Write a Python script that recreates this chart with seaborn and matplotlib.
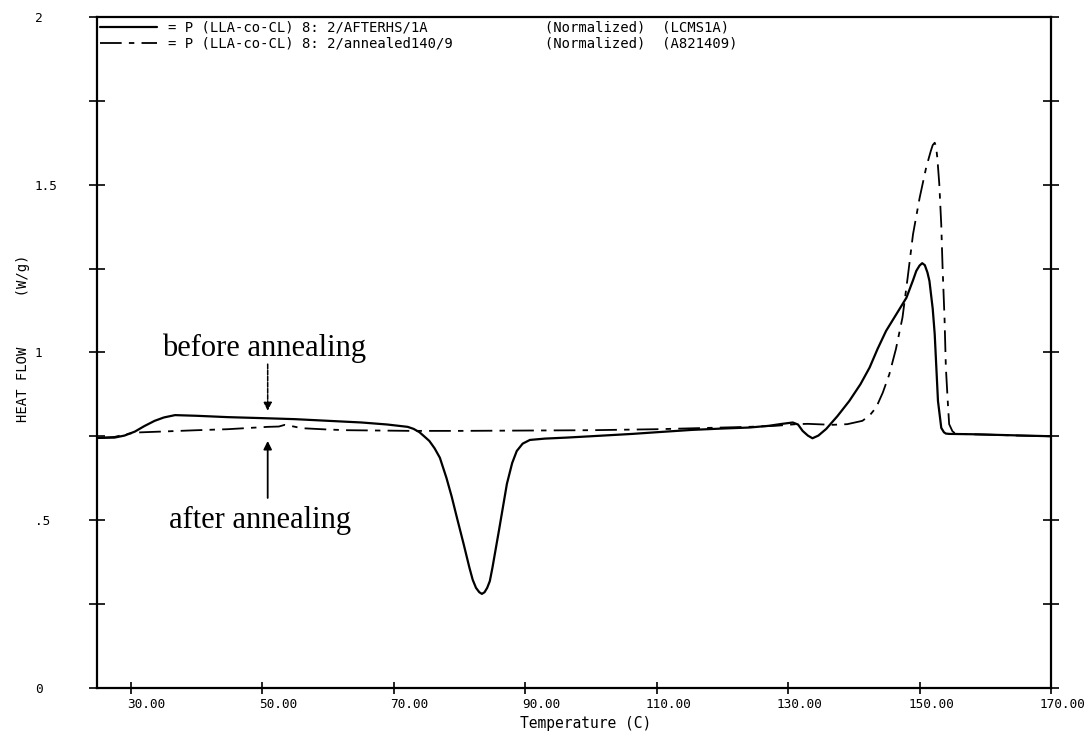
import matplotlib
matplotlib.use("Agg")
import matplotlib.pyplot as plt
import matplotlib.transforms as mtransforms
from matplotlib.ticker import FixedLocator, FixedFormatter
import pandas as pd
import seaborn as sns

# DSC heat-flow traces, P(LLA-co-CL) 8:2
temp_before = [25.0, 27.5, 29.0, 30.6, 32.0, 33.6, 35.0, 36.7, 40.0, 44.7, 50.0, 54.9,
               60.0, 65.1, 69.0, 72.1, 73.0, 73.9, 74.6, 75.4, 76.2, 77.0, 78.0, 78.8,
               79.6, 80.6, 81.5, 82.0, 82.5, 83.0, 83.4, 83.8, 84.2, 84.6, 85.0, 86.0,
               87.2, 88.0, 88.7, 89.6, 90.7, 93.0, 96.3, 100.0, 106.3, 110.0, 115.4,
               120.0, 124.1, 127.0, 129.1, 130.7, 131.5, 132.2, 133.0, 133.7, 134.6,
               135.8, 137.5, 139.3, 141.0, 142.4, 143.6, 144.9, 146.5, 148.0, 149.0,
               149.5, 150.0, 150.4, 150.8, 151.2, 151.5, 152.0, 152.3, 152.8, 153.3,
               153.7, 154.0, 154.5, 158.0, 162.0, 166.0, 170.0]
flow_before = [0.745, 0.746, 0.752, 0.764, 0.780, 0.796, 0.806, 0.813, 0.811, 0.807, 0.804, 0.801,
               0.796, 0.791, 0.785, 0.778, 0.772, 0.762, 0.750, 0.736, 0.714, 0.686, 0.626, 0.570,
               0.507, 0.430, 0.358, 0.322, 0.298, 0.285, 0.280, 0.285, 0.298, 0.318, 0.358, 0.470,
               0.608, 0.670, 0.706, 0.728, 0.739, 0.743, 0.746, 0.750, 0.757, 0.762, 0.769,
               0.773, 0.776, 0.781, 0.787, 0.791, 0.785, 0.766, 0.752, 0.744, 0.752,
               0.772, 0.810, 0.855, 0.905, 0.955, 1.010, 1.064, 1.115, 1.163, 1.215,
               1.243, 1.259, 1.266, 1.260, 1.238, 1.213, 1.130, 1.055, 0.855, 0.775,
               0.762, 0.758, 0.757, 0.756, 0.754, 0.752, 0.750]

temp_after = [25.0, 27.5, 29.0, 30.6, 34.7, 40.0, 44.7, 50.8, 52.5, 53.4, 54.5, 56.0,
              60.0, 63.0, 68.0, 72.7, 80.0, 90.0, 100.0, 110.0, 116.0, 124.0, 128.0,
              131.2, 133.0, 136.7, 139.0, 141.3, 142.4, 143.4, 144.4, 145.4, 146.4,
              147.4, 148.2, 149.0, 150.0, 151.0, 151.7, 152.0, 152.3, 152.5, 152.7,
              153.0, 153.3, 153.5, 153.8, 154.0, 154.3, 154.5, 155.0, 155.5, 160.0,
              165.0, 170.0]
flow_after = [0.745, 0.748, 0.755, 0.761, 0.764, 0.768, 0.771, 0.778, 0.779, 0.784, 0.780, 0.774,
              0.770, 0.768, 0.767, 0.766, 0.766, 0.767, 0.768, 0.771, 0.774, 0.778, 0.781,
              0.786, 0.787, 0.784, 0.786, 0.796, 0.812, 0.836, 0.880, 0.935, 1.010,
              1.104, 1.225, 1.352, 1.460, 1.551, 1.600, 1.618, 1.625, 1.615, 1.580,
              1.502, 1.380, 1.253, 1.100, 0.955, 0.850, 0.786, 0.765, 0.757, 0.755,
              0.752, 0.750]

legend_before = "= P (LLA-co-CL) 8: 2/AFTERHS/1A              (Normalized)  (LCMS1A)"
legend_after = "= P (LLA-co-CL) 8: 2/annealed140/9           (Normalized)  (A821409)"

x_ticks = [30, 50, 70, 90, 110, 130, 150, 170]
x_tick_labels = ["30.00", "50.00", "70.00", "90.00", "110.00", "130.00", "150.00", "170.00"]
y_ticks = [0, 0.5, 1.0, 1.5, 2.0]
y_tick_labels = ["0", ".5", "1", "1.5", "2"]
y_minor = [0.25, 0.75, 1.25, 1.75]

sns.set_theme(style="white")
plt.rcParams["font.family"] = ["DejaVu Sans Mono", "DejaVu Sans"]
plt.rcParams.update({"text.color": "black", "axes.labelcolor": "black",
                     "xtick.color": "black", "ytick.color": "black"})
mono = {"family": ["DejaVu Sans Mono"]}
serif = {"family": ["Liberation Serif", "DejaVu Serif"]}

df_before = pd.DataFrame({"Temperature": temp_before, "HeatFlow": flow_before})
df_after = pd.DataFrame({"Temperature": temp_after, "HeatFlow": flow_after})

fig = plt.figure(figsize=(10.88, 7.38), dpi=100)
ax = fig.add_axes([0.089, 0.068, 0.877, 0.909])

sns.lineplot(data=df_before, x="Temperature", y="HeatFlow", ax=ax, color="black",
             linewidth=1.6, sort=False, estimator=None, label=legend_before)
sns.lineplot(data=df_after, x="Temperature", y="HeatFlow", ax=ax, color="black",
             linewidth=1.3, sort=False, estimator=None, label=legend_after)
ax.lines[1].set_dashes([12, 4, 3, 4])

ax.set_xlim(24.8, 170)
ax.set_ylim(0, 2)

for side in ["left", "right", "top", "bottom"]:
    ax.spines[side].set_visible(True)
    ax.spines[side].set_color("black")
    ax.spines[side].set_linewidth(1.6)

# x axis ticks: tens digit sits on the tick
ax.xaxis.set_major_locator(FixedLocator(x_ticks))
ax.xaxis.set_major_formatter(FixedFormatter(x_tick_labels))
ax.tick_params(axis="x", which="major", direction="inout", length=8, width=1.2,
               color="black", labelcolor="black", bottom=True, top=False, pad=3,
               labelsize=9.2)
shift_x = mtransforms.ScaledTranslation(0.346, 0, fig.dpi_scale_trans)
for lab in ax.get_xticklabels():
    lab.set_horizontalalignment("right")
    lab.set_transform(lab.get_transform() + shift_x)
    lab.set_fontfamily(["DejaVu Sans Mono"])

# y axis ticks on both sides
ax.yaxis.set_major_locator(FixedLocator(y_ticks))
ax.yaxis.set_major_formatter(FixedFormatter(y_tick_labels))
ax.yaxis.set_minor_locator(FixedLocator(y_minor))
ax.tick_params(axis="y", which="both", direction="inout", length=12, width=1.2,
               color="black", labelcolor="black", left=True, right=True,
               labelleft=True, labelright=False, labelsize=9.2)
shift_y = mtransforms.ScaledTranslation(-0.49, 0, fig.dpi_scale_trans)
for lab in ax.get_yticklabels():
    lab.set_horizontalalignment("left")
    lab.set_transform(lab.get_transform() + shift_y)
    lab.set_fontfamily(["DejaVu Sans Mono"])

ax.set_xlabel("")
ax.set_ylabel("")
fig.text(0.538, 0.020, "Temperature (C)", fontdict=mono, fontsize=10.5,
         ha="center", va="center", color="black")
fig.text(0.021, 0.541, "HEAT FLOW      (W/g)", fontdict=mono, fontsize=10,
         ha="center", va="center", rotation=90, color="black")

leg = ax.legend(loc="upper left", bbox_to_anchor=(0.0, 1.0), frameon=False,
                prop={"family": ["DejaVu Sans Mono"], "size": 10},
                handlelength=4.1, handletextpad=0.8, borderpad=0.25,
                borderaxespad=0.0, labelspacing=0.15)
for t in leg.get_texts():
    t.set_color("black")

# annotations
ax.text(50.3, 0.990, "before annealing", fontdict=serif, fontsize=22,
        ha="center", va="baseline", color="black")
ax.annotate("", xy=(50.8, 0.826), xytext=(50.8, 0.965),
            arrowprops=dict(arrowstyle="-|>", color="black", lw=1.1,
                            linestyle=(0, (3, 1)), mutation_scale=12,
                            shrinkA=0, shrinkB=0))
ax.text(49.6, 0.477, "after annealing", fontdict=serif, fontsize=22,
        ha="center", va="baseline", color="black")
ax.annotate("", xy=(50.8, 0.736), xytext=(50.8, 0.566),
            arrowprops=dict(arrowstyle="-|>", color="black", lw=1.3,
                            mutation_scale=12, shrinkA=0, shrinkB=0))

fig.savefig("out.png", dpi=100)
